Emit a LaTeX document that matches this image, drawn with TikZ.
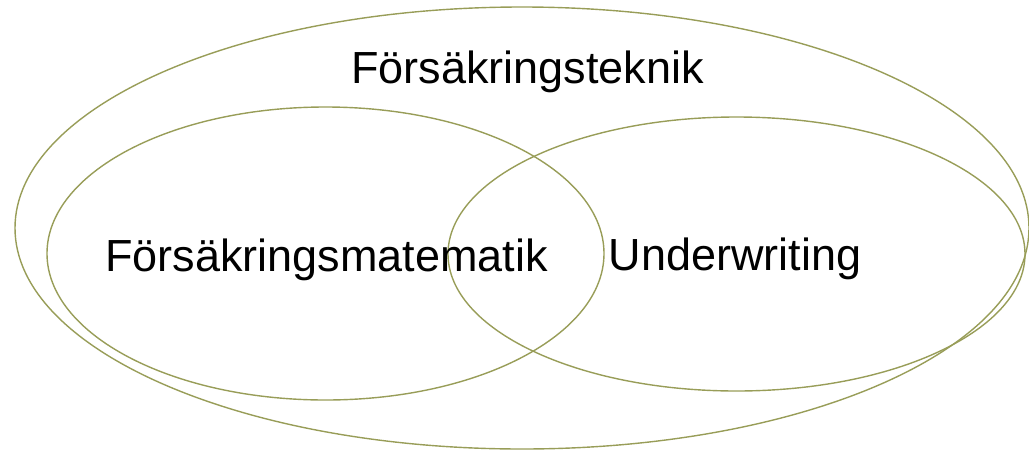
\documentclass[tikz,border=0pt]{standalone}
\usepackage{fontspec}
\setmainfont{Liberation Sans}
\definecolor{ringline}{RGB}{152,157,88}
\begin{document}
\begin{tikzpicture}[x=1pt,y=-1pt,
  ring/.style={draw=ringline,line width=1.4pt},
  label/.style={anchor=base,inner sep=0pt,font=\fontsize{45}{54}\selectfont}]
\useasboundingbox (0,0) rectangle (1029,451);
% outer field and the two overlapping sub-fields
\draw[ring] (522,228) ellipse [x radius=507,y radius=221];
\draw[ring] (325.5,253.5) ellipse [x radius=278.5,y radius=146.5];
\draw[ring] (736.5,254) ellipse [x radius=288.5,y radius=137];
% labels
\node[label] (tek) at (527.5,83) {Försäkringsteknik};
\node[label] (mat) at (326.5,271) {Försäkringsmatematik};
\node[label] (und) at (735,270) {Underwriting};
\end{tikzpicture}
\end{document}
